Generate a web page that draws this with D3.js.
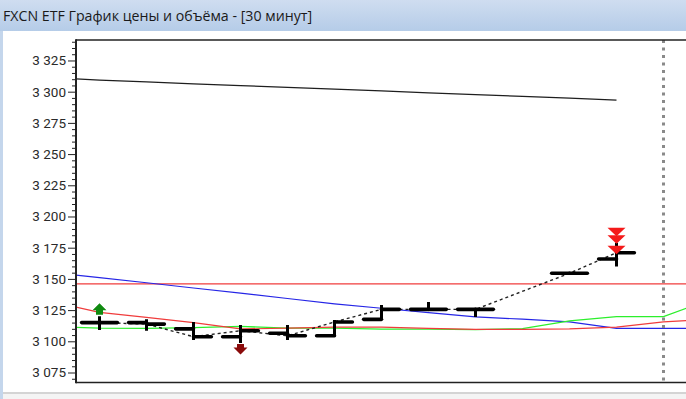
<!DOCTYPE html>
<html><head><meta charset="utf-8">
<script src="https://cdn.jsdelivr.net/npm/d3@7"></script>
<style>
html,body{margin:0;padding:0;background:#fff;overflow:hidden;}
svg{display:block;}
</style></head>
<body>
<script>
// ---------- data ----------
const title = "FXCN ETF График цены и объёма - [30 минут]";
const yTicks = [3075, 3100, 3125, 3150, 3175, 3200, 3225, 3250, 3275, 3300, 3325];
const yTickLabels = ["3 075", "3 100", "3 125", "3 150", "3 175", "3 200", "3 225", "3 250", "3 275", "3 300", "3 325"];
// bars (30-minute slots; slot 9 has no trades)
const barSlots = [0, 1, 2, 3, 4, 5, 6, 7, 8, 10, 11];
const opens  = [3115, 3115, 3110, 3103.7, 3106.5, 3104.5, 3117.6, 3125.6, 3125.6, 3154.5, 3166];
const highs  = [3120, 3117.6, 3115.5, 3113, 3113, 3117, 3129, 3131.5, 3125.6, 3154.5, 3179];
const lows   = [3109, 3108.5, 3101, 3098.6, 3101, 3104, 3117.6, 3125.6, 3119.5, 3154.5, 3160];
const closes = [3115, 3113.8, 3103.7, 3108.5, 3104.4, 3115.5, 3125.6, 3125.6, 3125.6, 3154.5, 3171];
// indicator lines
const lineSlots = [-0.5, 0, 1, 2, 3, 4, 5, 6, 7, 8, 9, 10, 11, 12, 12.5];
const blueLine  = [3153, 3151, 3146.9, 3142.7, 3138.6, 3134.3, 3130, 3126.5, 3123, 3119.5, 3117.7, 3115.5, 3110.4, 3110.4, 3110.4];
const redLine   = [3127.4, 3123.2, 3119.1, 3115.0, 3109.9, 3110.5, 3111.4, 3111.4, 3110.4, 3109.6, 3109.6, 3109.9, 3111.4, 3115.5, 3116.7];
const greenLine = [3111.2, 3110.6, 3110.4, 3111.0, 3111.9, 3110.6, 3110.6, 3109.8, 3109.8, 3109.4, 3110.2, 3116.3, 3119.8, 3119.8, 3126.7];
const topSlots  = [-0.5, 0, 1, 2, 3, 4, 5, 6, 7, 8, 9, 10, 11];
const topLine   = [3310.2, 3309.2, 3307.8, 3306.3, 3304.9, 3303.4, 3302.0, 3300.6, 3299.1, 3297.7, 3296.2, 3294.8, 3293.3];
const levelSlots = [-0.5, 12.5];
const redLevel   = [3146, 3146];
const currentSlot = 12;
const buySlots = [0];
const sellSlots = [3];
const alertSlots = [11, 11, 11];
const alertOffsets = [0, 1, 2.4];

// ---------- layout ----------
const W = 686, H = 399;
const plot = {left: 76, top: 40, right: 687, bottom: 382.5};
const svg = d3.select("body").append("svg").attr("width", W).attr("height", H);

const defs = svg.append("defs");
const grad = defs.append("linearGradient").attr("id", "tb").attr("x1", 0).attr("y1", 0).attr("x2", 0).attr("y2", 1);
grad.append("stop").attr("offset", "0%").attr("stop-color", "#cfddf0");
grad.append("stop").attr("offset", "100%").attr("stop-color", "#b5cce8");
defs.append("clipPath").attr("id", "pc").append("rect")
  .attr("x", plot.left).attr("y", plot.top).attr("width", plot.right - plot.left).attr("height", plot.bottom - plot.top);

// window chrome
svg.append("rect").attr("x", 0).attr("y", 0).attr("width", W).attr("height", H).attr("fill", "#ffffff");
svg.append("rect").attr("x", 0).attr("y", 0).attr("width", W).attr("height", 31).attr("fill", "url(#tb)");
svg.append("rect").attr("x", 0).attr("y", 31).attr("width", 3).attr("height", H - 31).attr("fill", "#c4d6ec");
svg.append("rect").attr("x", 3).attr("y", 392).attr("width", W - 3).attr("height", 2).attr("fill", "#d4d4d4");
svg.append("rect").attr("x", 3).attr("y", 394).attr("width", W - 3).attr("height", 5).attr("fill", "#f4f4f4");
svg.append("text").attr("x", 3).attr("y", 21).text(title)
  .attr("font-family", "'Open Sans', 'Noto Sans', sans-serif").attr("font-size", 14.2).attr("fill", "#1a1a1a");

// scales
const x = d3.scaleLinear().domain([-0.5, 12.5]).range([plot.left, plot.right]);
const y = d3.scaleLinear().domain([3067, 3341.4]).range([plot.bottom, plot.top]);

// axis
const minor = d3.range(3070, 3341, 5).filter(v => v % 25 !== 0);
const minorAxis = d3.axisLeft(y).tickValues(minor).tickSize(4).tickFormat("");
const gMinor = svg.append("g").attr("transform", `translate(${plot.left},0)`).call(minorAxis);
gMinor.select(".domain").remove();
gMinor.selectAll("line").attr("stroke", "#222");
const majorAxis = d3.axisLeft(y).tickValues(yTicks).tickSize(8).tickPadding(2)
  .tickFormat((d, i) => yTickLabels[i]);
const gMajor = svg.append("g").attr("transform", `translate(${plot.left},0)`).call(majorAxis);
gMajor.select(".domain").remove();
gMajor.selectAll("line").attr("stroke", "#222");
gMajor.selectAll("text").attr("font-family", "Roboto, sans-serif").attr("font-size", 13.5).attr("fill", "#2a2a2a");

const g = svg.append("g").attr("clip-path", "url(#pc)");

const lineGen = (xs) => d3.line().x((d, i) => x(xs[i])).y(d => y(d));

// lines
g.append("path").attr("d", lineGen(topSlots)(topLine)).attr("fill", "none").attr("stroke", "#1e1e1e").attr("stroke-width", 1.2);
g.append("path").attr("d", lineGen(levelSlots)(redLevel)).attr("fill", "none").attr("stroke", "#f03c3c").attr("stroke-width", 1.2);
g.append("path").attr("d", lineGen(lineSlots)(blueLine)).attr("fill", "none").attr("stroke", "#2626e6").attr("stroke-width", 1.2);
g.append("path").attr("d", lineGen(lineSlots)(greenLine)).attr("fill", "none").attr("stroke", "#2cef2c").attr("stroke-width", 1.3);
g.append("path").attr("d", lineGen(lineSlots)(redLine)).attr("fill", "none").attr("stroke", "#f03c3c").attr("stroke-width", 1.2);

// current time marker
g.append("line").attr("x1", x(currentSlot)).attr("x2", x(currentSlot)).attr("y1", plot.top).attr("y2", plot.bottom)
  .attr("stroke", "#8a8a8a").attr("stroke-width", 3).attr("stroke-dasharray", "3,4.5");

// close line
g.append("path").attr("d", lineGen(barSlots)(closes)).attr("fill", "none").attr("stroke", "#222")
  .attr("stroke-width", 1.4).attr("stroke-dasharray", "3,3");

// bars
const hw = x(0.38) - x(0);
const bars = g.selectAll("g.bar").data(barSlots).join("g").attr("class", "bar");
bars.append("line").attr("x1", (d) => x(d)).attr("x2", d => x(d))
  .attr("y1", (d, i) => y(highs[i])).attr("y2", (d, i) => y(lows[i]))
  .attr("stroke", "#000").attr("stroke-width", 3);
bars.append("line").attr("x1", d => x(d) - hw).attr("x2", d => x(d))
  .attr("y1", (d, i) => y(opens[i])).attr("y2", (d, i) => y(opens[i]))
  .attr("stroke", "#000").attr("stroke-width", 3.6).attr("stroke-linecap", "round");
bars.append("line").attr("x1", d => x(d)).attr("x2", d => x(d) + hw)
  .attr("y1", (d, i) => y(closes[i])).attr("y2", (d, i) => y(closes[i]))
  .attr("stroke", "#000").attr("stroke-width", 3.6).attr("stroke-linecap", "round");

// buy markers (green up arrows above high)
buySlots.forEach(s => {
  const i = barSlots.indexOf(s);
  const cx = x(s), b = y(highs[i]) - 1.5;
  g.append("path").attr("d", `M${cx - 7},${b - 4.5} L${cx},${b - 11.5} L${cx + 7},${b - 4.5} L${cx + 3.5},${b - 4.5} L${cx + 3.5},${b} L${cx - 3.5},${b} L${cx - 3.5},${b - 4.5} Z`)
    .attr("fill", "#108a10");
});
// sell markers (dark red down arrows below low)
sellSlots.forEach(s => {
  const i = barSlots.indexOf(s);
  const cx = x(s), t = y(lows[i]) + 1;
  g.append("path").attr("d", `M${cx - 3.5},${t} L${cx + 3.5},${t} L${cx + 3.5},${t + 3.5} L${cx + 7},${t + 3.5} L${cx},${t + 10.5} L${cx - 7},${t + 3.5} L${cx - 3.5},${t + 3.5} Z`)
    .attr("fill", "#8a0a0a");
});
// alert triangles (red)
alertSlots.forEach((s, k) => {
  const cx = x(s);
  const top = y(highs[barSlots.indexOf(s)]) - 15 + alertOffsets[k] * 7.5;
  g.append("path").attr("d", `M${cx - 9},${top} L${cx + 9},${top} L${cx},${top + 8.5} Z`).attr("fill", "#f41a1a");
});

// frame
svg.append("line").attr("x1", plot.left).attr("x2", W).attr("y1", plot.top).attr("y2", plot.top).attr("stroke", "#222").attr("stroke-width", 1.5);
svg.append("line").attr("x1", plot.left).attr("x2", W).attr("y1", plot.bottom).attr("y2", plot.bottom).attr("stroke", "#222").attr("stroke-width", 1.5);
svg.append("line").attr("x1", plot.left).attr("x2", plot.left).attr("y1", plot.top - 0.75).attr("y2", plot.bottom + 0.75).attr("stroke", "#222").attr("stroke-width", 2);
</script>
</body></html>
